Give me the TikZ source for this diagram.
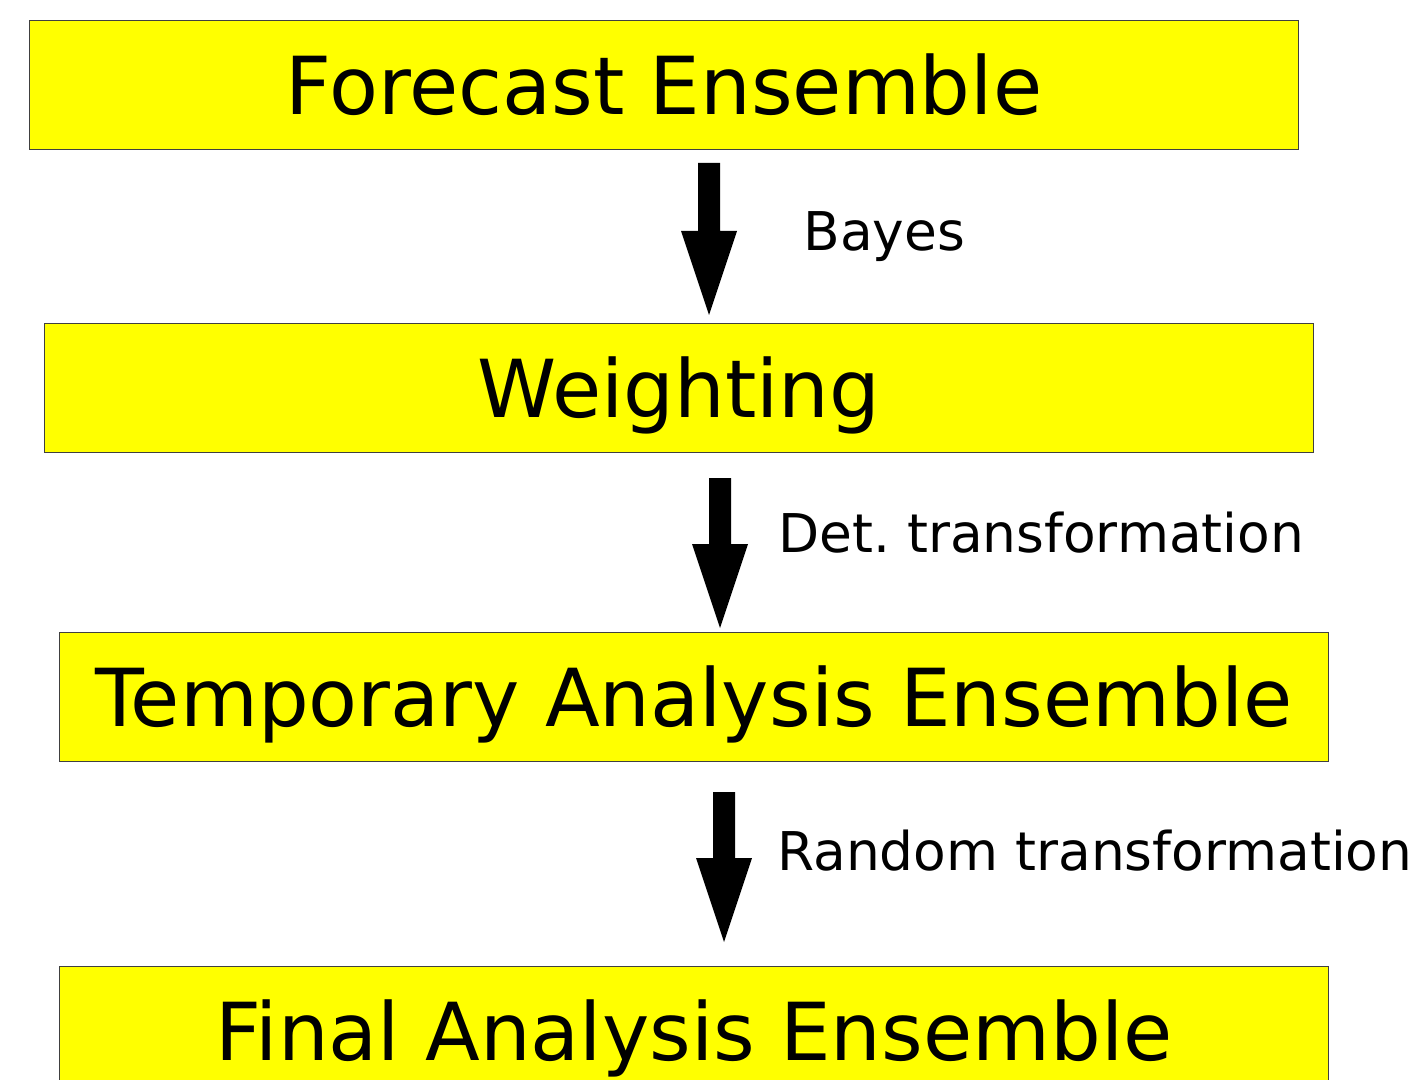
\documentclass[tikz,border=0pt]{standalone}
\usepackage{fontspec}
\setmainfont{DejaVu Sans}
\usetikzlibrary{calc}
\definecolor{boxfill}{RGB}{255,255,0}
\definecolor{boxline}{RGB}{64,64,64}
\tikzset{
  box/.style={draw=boxline, line width=0.6pt, fill=boxfill, rectangle, inner sep=0pt,
    minimum width=634.5pt, minimum height=64.5pt, text height=29.2pt, text depth=0pt,
    font=\fontsize{40pt}{45pt}\selectfont, anchor=north west},
  lbl/.style={anchor=base west, inner sep=0pt, font=\fontsize{26.7pt}{30pt}\selectfont}
}
\newcommand{\blockarrow}[2]{%
  \fill ($(#1)+(-11,0)$) -- ($(#2)+(-11,-84)$) -- ($(#2)+(-28,-84)$) -- (#2)
    -- ($(#2)+(28,-84)$) -- ($(#2)+(11,-84)$) -- ($(#1)+(11,0)$) -- cycle;}
\begin{document}
\frenchspacing
\begin{tikzpicture}[x=0.5pt, y=-0.5pt]
\clip (0,0) rectangle (1418,1080);
\node[box] (fe) at (29,20) {Forecast Ensemble};
\node[box] (w) at (44,323) {Weighting};
\node[box] (tae) at (59,632) {Temporary Analysis Ensemble};
\node[box] (fae) at (59,966) {Final Analysis Ensemble};
\coordinate (a1s) at (709,163); \coordinate (a1e) at (709,315);
\coordinate (a2s) at (720,478); \coordinate (a2e) at (720,628);
\coordinate (a3s) at (724,792); \coordinate (a3e) at (724,942);
\blockarrow{a1s}{a1e}
\blockarrow{a2s}{a2e}
\blockarrow{a3s}{a3e}
\node[lbl] (l1) at (803,251) {Bayes};
\node[lbl] (l2) at (778,552) {Det. transformation};
\node[lbl] (l3) at (777,870) {Random transformation};
\end{tikzpicture}
\end{document}
